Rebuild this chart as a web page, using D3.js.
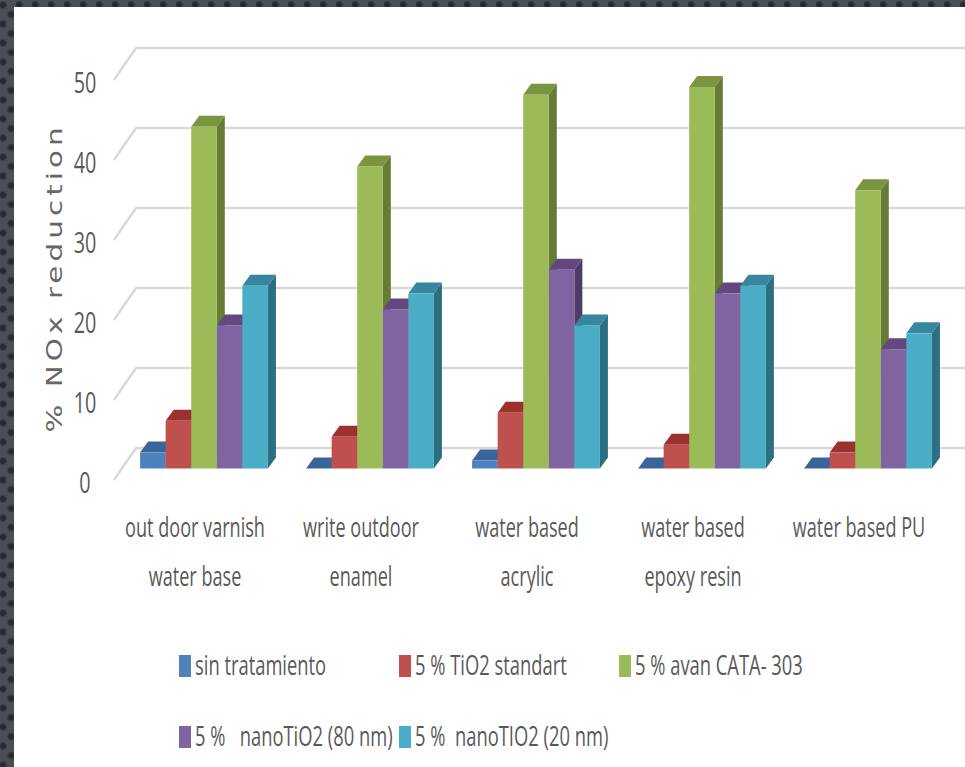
<!DOCTYPE html>
<html>
<head>
<meta charset="utf-8">
<script src="https://cdn.jsdelivr.net/npm/d3@7"></script>
<style>
html, body { margin: 0; padding: 0; background: #3a3e47; overflow: hidden; }
text { font-family: "Open Sans", sans-serif; fill: #595959; }
</style>
</head>
<body>
<div id="chart"></div>
<script>
var categories = [
    ["out door varnish", "water base"],
    ["write outdoor", "enamel"],
    ["water based", "acrylic"],
    ["water based", "epoxy resin"],
    ["water based PU"]
];
var seriesNames = ["sin tratamiento", "5 % TiO2 standart", "5 % avan CATA- 303", "5 %   nanoTiO2 (80 nm)", "5 %  nanoTIO2 (20 nm)"];
var sinTratamiento = [2, 0, 1, 0, 0];
var tio2Standart = [6, 4, 7, 3, 2];
var avanCata = [43, 38, 47, 48, 35];
var nano80 = [18, 20, 25, 22, 15];
var nano20 = [23, 22, 18, 23, 17];
var yTicks = [0, 10, 20, 30, 40, 50];

var seriesValues = [sinTratamiento, tio2Standart, avanCata, nano80, nano20];
var faceColors = ["#4f81bd", "#c0504d", "#9bbb59", "#8064a2", "#4bacc6"];
var topColors = ["#3a659b", "#9c3230", "#7a9440", "#63487f", "#35869e"];
var sideColors = ["#2f5280", "#7f2b29", "#667c35", "#4f3a68", "#2c6f82"];

var width = 965, height = 767;

var svg = d3.select("#chart").append("svg")
    .attr("width", width)
    .attr("height", height)
    .style("display", "block");

// dotted slide background
var defs = svg.append("defs");
var dotGrad = defs.append("radialGradient").attr("id", "dot");
dotGrad.append("stop").attr("offset", "0%").attr("stop-color", "#1f232a");
dotGrad.append("stop").attr("offset", "55%").attr("stop-color", "#2a2e36");
dotGrad.append("stop").attr("offset", "100%").attr("stop-color", "#4a4e57");

var pattern = defs.append("pattern")
    .attr("id", "dots")
    .attr("width", 16)
    .attr("height", 19)
    .attr("patternUnits", "userSpaceOnUse");
pattern.append("rect").attr("width", 16).attr("height", 19).attr("fill", "#4a4e57");
pattern.append("circle").attr("cx", 3).attr("cy", 5).attr("r", 4.5).attr("fill", "url(#dot)");
pattern.append("circle").attr("cx", 11).attr("cy", 14.5).attr("r", 4.5).attr("fill", "url(#dot)");

svg.append("rect").attr("width", width).attr("height", height).attr("fill", "url(#dots)");
svg.append("rect").attr("x", 14).attr("y", 7).attr("width", width - 14).attr("height", height - 7).attr("fill", "#ffffff");

// front plane of the wall, the back wall is shifted by wallX/wallY
var wallX = 22, wallY = -32;
var depthX = 8, depthY = -11;

var y = d3.scaleLinear().domain([0, 50]).range([480, 80]);
// bars stand mid way into the floor so they get their own scale
var yBar = d3.scaleLinear().domain([0, 50]).range([468.5, 71]);
var x0 = d3.scaleBand().domain(d3.range(categories.length)).range([121, 951]).paddingInner(0.23).paddingOuter(0.115);
var x1 = d3.scaleBand().domain(d3.range(seriesNames.length)).range([0, x0.bandwidth()]);

// GRID
svg.append("g").selectAll("polyline")
    .data(yTicks)
    .enter()
    .append("polyline")
    .attr("points", function(d) {
        return [[114, y(d)], [114 + wallX, y(d) + wallY], [width, y(d) + wallY]].join(" ");
    })
    .attr("fill", "none")
    .attr("stroke", "#d9d9d9")
    .attr("stroke-width", 2.5);

// Y AXIS
var yAxis = d3.axisLeft(y).tickValues(yTicks).tickSize(0).tickPadding(0);
var axisG = svg.append("g").attr("transform", "translate(98, 0)").call(yAxis);
axisG.select(".domain").remove();
axisG.selectAll("text")
    .attr("dy", null)
    .attr("dominant-baseline", "central")
    .attr("text-anchor", "middle")
    .attr("transform", function(d) { return "translate(-13, " + (y(d) + 1) + ") scale(0.66, 1) translate(0, " + (-y(d)) + ")"; })
    .style("font-size", "30px")
    .style("font-family", "\"Open Sans\", sans-serif");

svg.append("text")
    .attr("transform", "translate(62, 280) rotate(-90) scale(1.4, 1)")
    .attr("text-anchor", "middle")
    .attr("textLength", 218)
    .attr("lengthAdjust", "spacing")
    .attr("xml:space", "preserve")
    .style("white-space", "pre")
    .style("font-family", "\"DejaVu Sans\", sans-serif")
    .style("font-size", "21px")
    .style("fill", "#666666")
    .text("% NOx reduction");

// BARS, drawn left to right so neighbours overlap the depth faces
var baseY = yBar(0);
var groups = svg.append("g").selectAll("g")
    .data(categories)
    .enter()
    .append("g")
    .attr("transform", function(d, i) { return "translate(" + x0(i) + ", 0)"; });

groups.each(function(cat, c) {
    var g = d3.select(this);
    seriesNames.forEach(function(name, s) {
        var v = seriesValues[s][c];
        var bx = x1(s), w = x1.bandwidth();
        var by = yBar(v);
        // side
        g.append("polygon")
            .attr("points", [[bx + w, baseY], [bx + w + depthX, baseY + depthY], [bx + w + depthX, by + depthY], [bx + w, by]].join(" "))
            .attr("fill", sideColors[s]);
        // top
        g.append("polygon")
            .attr("points", [[bx, by], [bx + depthX, by + depthY], [bx + w + depthX, by + depthY], [bx + w, by]].join(" "))
            .attr("fill", topColors[s]);
        // front
        g.append("rect")
            .attr("x", bx)
            .attr("y", by)
            .attr("width", w)
            .attr("height", baseY - by)
            .attr("fill", faceColors[s]);
    });
});

// CATEGORY LABELS
function squeezed(sel, px, py, sx, size, anchor, str) {
    return sel.append("text")
        .attr("transform", "translate(" + px + ", " + py + ") scale(" + sx + ", 1)")
        .attr("text-anchor", anchor)
        .style("font-size", size + "px")
        .text(str);
}

var labelG = svg.append("g");
categories.forEach(function(lines, c) {
    var cx = x0(c) + x0.bandwidth() / 2 - 9;
    lines.forEach(function(line, j) {
        squeezed(labelG, cx, 537 + j * 49, 0.67, 27, "middle", line);
    });
});

// LEGEND
var legendX = [179, 399, 619, 179, 399];
var legendY = [666, 666, 666, 737, 737];
var legendG = svg.append("g");
seriesNames.forEach(function(name, s) {
    legendG.append("rect")
        .attr("x", legendX[s])
        .attr("y", legendY[s] - 11)
        .attr("width", 12)
        .attr("height", 22)
        .attr("fill", faceColors[s]);
    squeezed(legendG, legendX[s] + 16, legendY[s] + 9, 0.68, 27, "start", name)
        .attr("xml:space", "preserve")
        .style("white-space", "pre");
});
</script>
</body>
</html>
